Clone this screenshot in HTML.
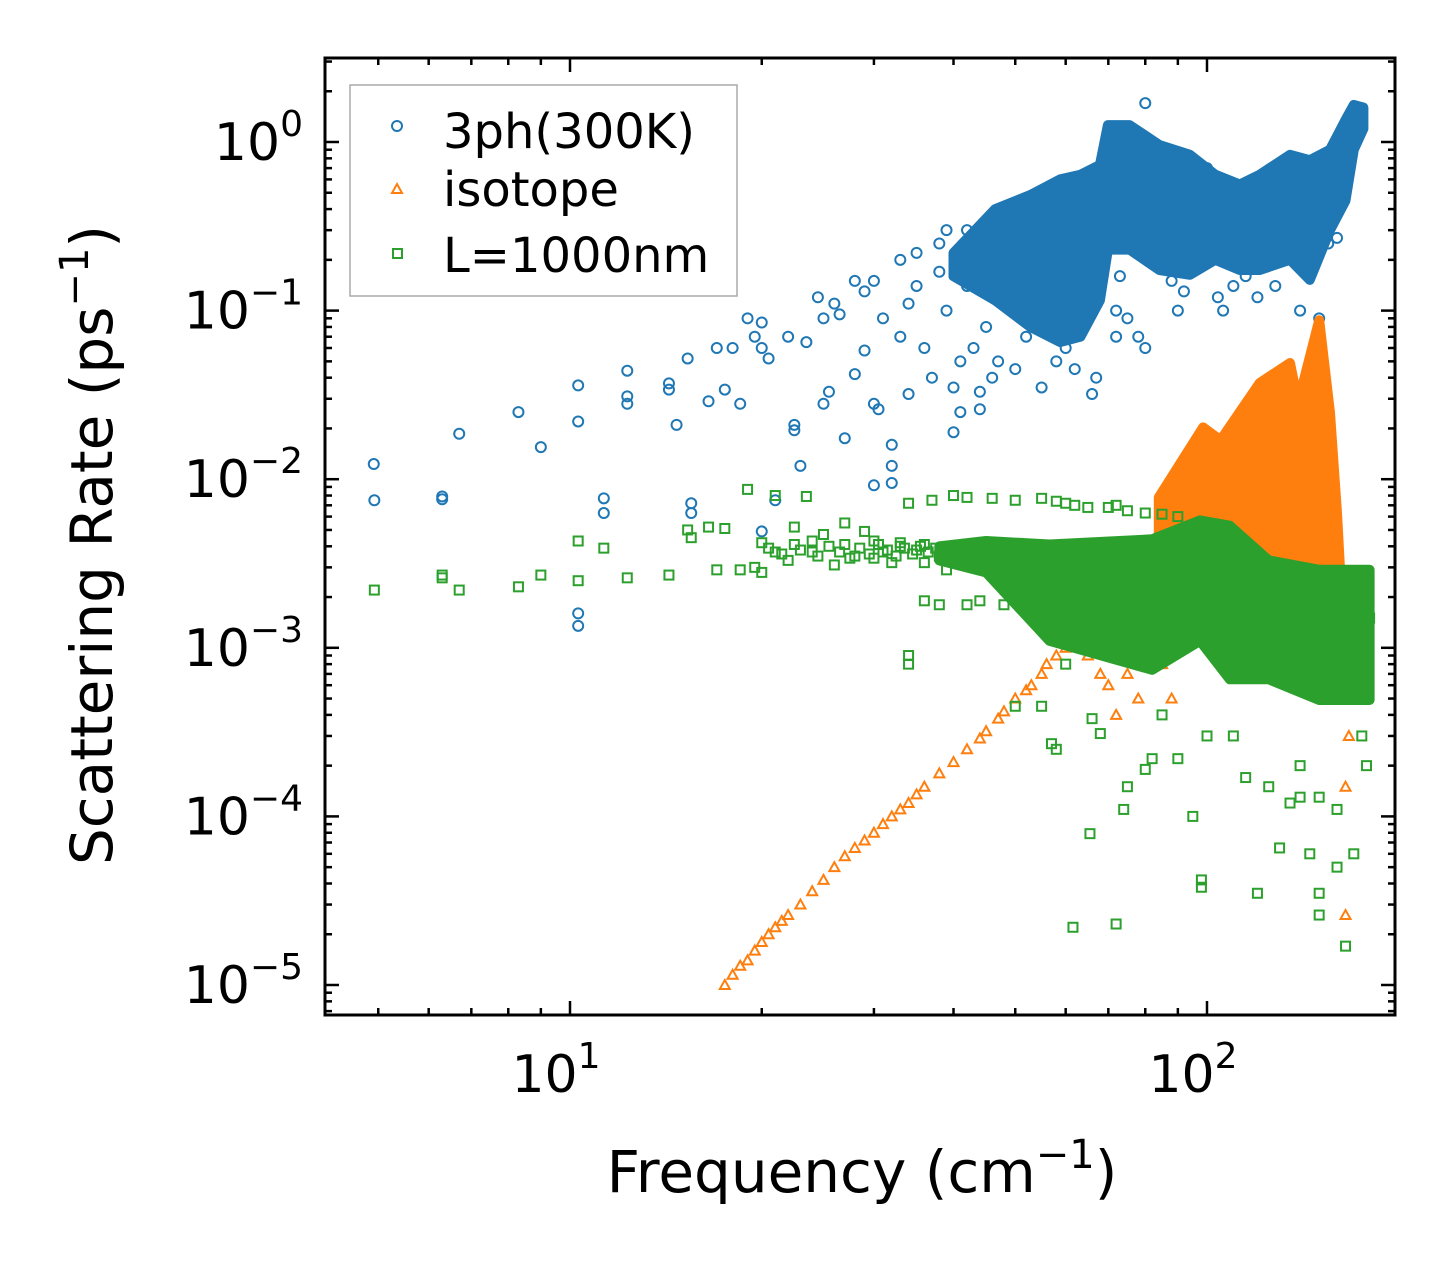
<!DOCTYPE html>
<html><head><meta charset="utf-8"><style>
html,body{margin:0;padding:0;background:#fff;}
svg{display:block;font-family:"DejaVu Sans","Liberation Sans",sans-serif;}
</style></head><body>
<svg id="chart" width="1455" height="1265" viewBox="0 0 1455 1265">
<defs><clipPath id="clip"><rect x="325" y="58" width="1070" height="957"/></clipPath></defs>
<g id="marks" clip-path="url(#clip)"></g>
<rect x="325" y="58" width="1070" height="957" fill="none" stroke="#000" stroke-width="3"/>
<g id="axes"></g>
<text x="862" y="1192" font-size="58" text-anchor="middle">Frequency (cm<tspan dy="-24" font-size="40">−1</tspan><tspan dy="24">)</tspan></text>
<text transform="translate(112,545) rotate(-90)" font-size="58" text-anchor="middle">Scattering Rate (ps<tspan dy="-24" font-size="40">−1</tspan><tspan dy="24">)</tspan></text>
<g>
<rect x="350" y="85" width="387" height="211" fill="#fff" fill-opacity="0.8" stroke="#aaa" stroke-width="1.5"/>
<circle cx="397" cy="126" r="5" fill="none" stroke="#1f77b4" stroke-width="2"/>
<text x="443" y="148" font-size="48">3ph(300K)</text>
<path d="M397,184 L402,193 L392,193 Z" fill="none" stroke="#ff7f0e" stroke-width="2"/>
<text x="443" y="206" font-size="48">isotope</text>
<rect x="393" y="249" width="9" height="9" fill="none" stroke="#2ca02c" stroke-width="2"/>
<text x="443" y="272" font-size="48">L=1000nm</text>
</g>
</svg>
<script>
const xTickVals=[10,100];
const yTickVals=[1,0.1,0.01,0.001,0.0001,0.00001];
const yTickExps=["0","−1","−2","−3","−4","−5"];
const xTickExps=["1","2"];
// dense region envelopes
const blueBandF=[40,46.5,52.8,58.8,63.3,67.9,69.9,75.6,84.2,94,103,112.6,121,135,145,156,165,170,176];
const blueBandHi=[0.22,0.40,0.485,0.6,0.64,0.73,1.26,1.26,0.96,0.84,0.64,0.56,0.64,0.84,0.78,0.9,1.35,1.66,1.6];
const blueBandLo=[0.16,0.115,0.08,0.065,0.07,0.115,0.23,0.23,0.174,0.163,0.2,0.174,0.174,0.2,0.152,0.3,0.45,0.9,1.2];
const orangeBandF=[84,98.6,105,121,135,139,150,156,160,162];
const orangeBandHi=[0.0078,0.0203,0.017,0.0372,0.0489,0.0283,0.0876,0.0248,0.0063,0.0026];
const orangeBandLo=[0.0015,0.0011,0.0013,0.0019,0.0025,0.002,0.002,0.0019,0.0015,0.0011];
const greenBandF=[38,45,56.6,82,97.5,108.6,125,150,180];
const greenBandHi=[0.0040,0.0043,0.0041,0.0044,0.0057,0.0053,0.0033,0.0029,0.0029];
const greenBandLo=[0.0033,0.0028,0.0011,0.00074,0.0011,0.00065,0.00065,0.00049,0.00049];
// scattered points
const blueF=[4.92,4.93,6.3,6.3,6.7,8.3,9.0,10.3,10.3,10.3,10.3,11.3,11.3,12.3,12.3,12.3,14.3,14.3,14.7,15.3,15.5,15.5,16.5,17,17.5,18,18.5,19,19.5,20,20,20.5,20,21,22,22.5,22.5,23,23.5,24.5,25,25,25.5,26,26.5,27,28,28,29,29,30,30,30,30.5,31,32,32,32,33,33,34,34,35,35,36,37,38,38,39,39,40,40,41,41,42,42,43,44,44,45,45,46,47,48,50,52,55,58,60,62,66,67,72,72,73,75,78,80,80,85,88,90,92,95,100,104,106,110,115,120,128,135,140,150,150,155,160,170,175];
const blueR=[0.0123,0.0075,0.0076,0.0079,0.0186,0.025,0.0155,0.036,0.022,0.0016,0.00135,0.0077,0.0063,0.044,0.031,0.028,0.037,0.034,0.021,0.052,0.0072,0.0063,0.029,0.06,0.034,0.06,0.028,0.09,0.07,0.085,0.06,0.052,0.0049,0.0075,0.07,0.021,0.0195,0.012,0.065,0.12,0.09,0.028,0.033,0.11,0.095,0.0175,0.15,0.042,0.13,0.058,0.15,0.028,0.0092,0.026,0.09,0.012,0.0095,0.016,0.2,0.07,0.032,0.11,0.22,0.14,0.06,0.04,0.25,0.17,0.3,0.1,0.019,0.035,0.025,0.05,0.3,0.14,0.06,0.033,0.026,0.23,0.08,0.04,0.05,0.4,0.045,0.07,0.035,0.05,0.06,0.045,0.032,0.04,0.07,0.1,0.16,0.09,0.07,1.7,0.06,0.6,0.15,0.1,0.13,0.25,0.7,0.12,0.1,0.14,0.16,0.12,0.14,0.8,0.1,0.07,0.09,0.25,0.27,1.6,1.4];
const orangeF=[17.5,18,18.5,19,19.5,20,20.5,21,21.5,22,23,24,25,26,27,28,29,30,31,32,33,34,35,36,38,40,42,44,45,47,48,50,52,53,55,56,58,60,62,64,65,68,70,72,75,78,80,85,88,90,165,165,165,166,167];
const orangeR=[1e-5,1.15e-5,1.3e-5,1.4e-5,1.6e-5,1.8e-5,2e-5,2.2e-5,2.4e-5,2.6e-5,3e-5,3.6e-5,4.2e-5,5e-5,5.8e-5,6.5e-5,7.2e-5,8e-5,9e-5,1e-4,1.1e-4,1.2e-4,1.35e-4,1.5e-4,1.8e-4,2.1e-4,2.5e-4,2.9e-4,3.2e-4,3.8e-4,4.2e-4,5e-4,5.6e-4,6e-4,7e-4,8e-4,9e-4,1e-3,1.1e-3,1.2e-3,9e-4,7e-4,6e-4,4e-4,7e-4,5e-4,1.2e-3,8e-4,5e-4,1.2e-3,5e-4,1.5e-4,2.6e-5,1e-3,3e-4];
const greenF=[4.93,6.3,6.7,6.3,8.3,9.0,10.3,10.3,11.3,12.3,14.3,15.3,15.5,16.5,17,17.5,18.5,19,19.5,20,20,21,21,22,22.5,23.5,24,25,26,27,28,29,30,31,32,33,34,35,36,37,38,39,40,42,43,44,46,48,50,52,55,58,60,62,65,70,72,75,80,85,90,36,38,34,34,42,50,55,57,58,60,66,68,61.6,65.5,72,74,75,80,82,85,90,95,98,98,100,110,115,120,125,130,135,140,140,145,150,150,150,160,160,165,170,170,175,178,178,180,20.5,21.5,22.5,23,24.5,25.5,26.5,27.5,28.5,29.5,30.5,31.5,32.5,33.5,34.5,35.5,36.5,37.5,24,27,30,33,36];
const greenR=[0.0022,0.0027,0.0022,0.0026,0.0023,0.0027,0.0043,0.0025,0.0039,0.0026,0.0027,0.005,0.0045,0.0052,0.0029,0.0051,0.0029,0.0087,0.003,0.0028,0.0042,0.008,0.0037,0.0033,0.0052,0.0079,0.0037,0.0047,0.0031,0.0055,0.0035,0.0049,0.0034,0.0037,0.0032,0.004,0.0072,0.0038,0.0032,0.0075,0.0035,0.0029,0.008,0.0078,0.0037,0.0019,0.0077,0.0018,0.0075,0.002,0.0077,0.0074,0.0072,0.007,0.0068,0.0068,0.007,0.0065,0.0063,0.0062,0.006,0.0019,0.0018,0.0009,0.0008,0.0018,0.00045,0.00045,0.00027,0.00025,0.0008,0.00038,0.00031,2.2e-5,7.9e-5,2.3e-5,0.00011,0.00015,0.00019,0.00022,0.0004,0.00022,0.0001,4.2e-5,3.8e-5,0.0003,0.0003,0.00017,3.5e-5,0.00015,6.5e-5,0.00012,0.0002,0.00013,6e-5,2.6e-5,3.5e-5,1.3e-4,0.00011,5e-5,1.7e-5,6e-5,0.0005,0.0003,0.0002,0.0009,0.0015,0.0039,0.0036,0.0041,0.0038,0.0035,0.004,0.0037,0.0034,0.0039,0.0036,0.0041,0.0038,0.0035,0.0039,0.0036,0.004,0.0037,0.0039,0.0043,0.0041,0.0043,0.0042,0.0041];

const NS="http://www.w3.org/2000/svg";
const X=f=>570+637*(Math.log10(f)-1);
const Y=r=>142-168.6*Math.log10(r);
const marks=document.getElementById('marks');
const axes=document.getElementById('axes');
function mk(tag,attrs,parent){const e=document.createElementNS(NS,tag);for(const k in attrs)e.setAttribute(k,attrs[k]);parent.appendChild(e);return e;}
function band(F,Hi,Lo,color,name){
  let d='M'+F.map((f,i)=>X(f).toFixed(1)+','+Y(Hi[i]).toFixed(1)).join(' L');
  for(let i=F.length-1;i>=0;i--)d+=' L'+X(F[i]).toFixed(1)+','+Y(Lo[i]).toFixed(1);
  const p=mk('path',{d:d+'Z',fill:color,stroke:color,'stroke-width':10,'stroke-linejoin':'round'},marks);
  
  
}
function pts(F,R,kind,color,name){
  F.forEach((f,i)=>{const x=X(f),y=Y(R[i]);let e;
    if(kind==='c')e=mk('circle',{cx:x,cy:y,r:5,fill:'none',stroke:color,'stroke-width':2},marks);
    else if(kind==='t')e=mk('path',{d:`M${x},${y-5} L${x+5},${y+4} L${x-5},${y+4}Z`,fill:'none',stroke:color,'stroke-width':2},marks);
    else e=mk('rect',{x:x-4.5,y:y-4.5,width:9,height:9,fill:'none',stroke:color,'stroke-width':2},marks);
    
    
  });
}
band(blueBandF,blueBandHi,blueBandLo,'#1f77b4','3ph-dense-region');
pts(blueF,blueR,'c','#1f77b4','3ph-point');
band(orangeBandF,orangeBandHi,orangeBandLo,'#ff7f0e','isotope-dense-region');
pts(orangeF,orangeR,'t','#ff7f0e','isotope-point');
band(greenBandF,greenBandHi,greenBandLo,'#2ca02c','boundary-dense-region');
pts(greenF,greenR,'s','#2ca02c','boundary-point');
// ticks
function tick(x1,y1,x2,y2,name){const l=mk('line',{x1,y1,x2,y2,stroke:'#000','stroke-width':2.5},axes);
  
  }
for(let dec=0;dec<=2;dec++)for(let m=1;m<10;m++){const f=m*Math.pow(10,dec);const x=X(f);if(x<326||x>1394)continue;
  const L=m===1?14:7;tick(x,1015,x,1015-L,'x-tick');tick(x,58,x,58+L,'x-tick-top');}
for(let e=-6;e<=0;e++)for(let m=1;m<10;m++){const r=m*Math.pow(10,e);const y=Y(r);if(y<59||y>1014)continue;
  const L=m===1?14:7;tick(325,y,325+L,y,'y-tick');tick(1395,y,1395-L,y,'y-tick-right');}
xTickVals.forEach((v,i)=>{const t=mk('text',{x:X(v)-14,y:1092,'font-size':52,'text-anchor':'middle'},axes);
  t.innerHTML='10<tspan dy="-24" font-size="36">'+xTickExps[i]+'</tspan>';
  
  });
yTickVals.forEach((v,i)=>{const t=mk('text',{x:303,y:Y(v)+18,'font-size':52,'text-anchor':'end'},axes);
  t.innerHTML='10<tspan dy="-24" font-size="36">'+yTickExps[i]+'</tspan>';
  
  });
</script>
</body></html>
